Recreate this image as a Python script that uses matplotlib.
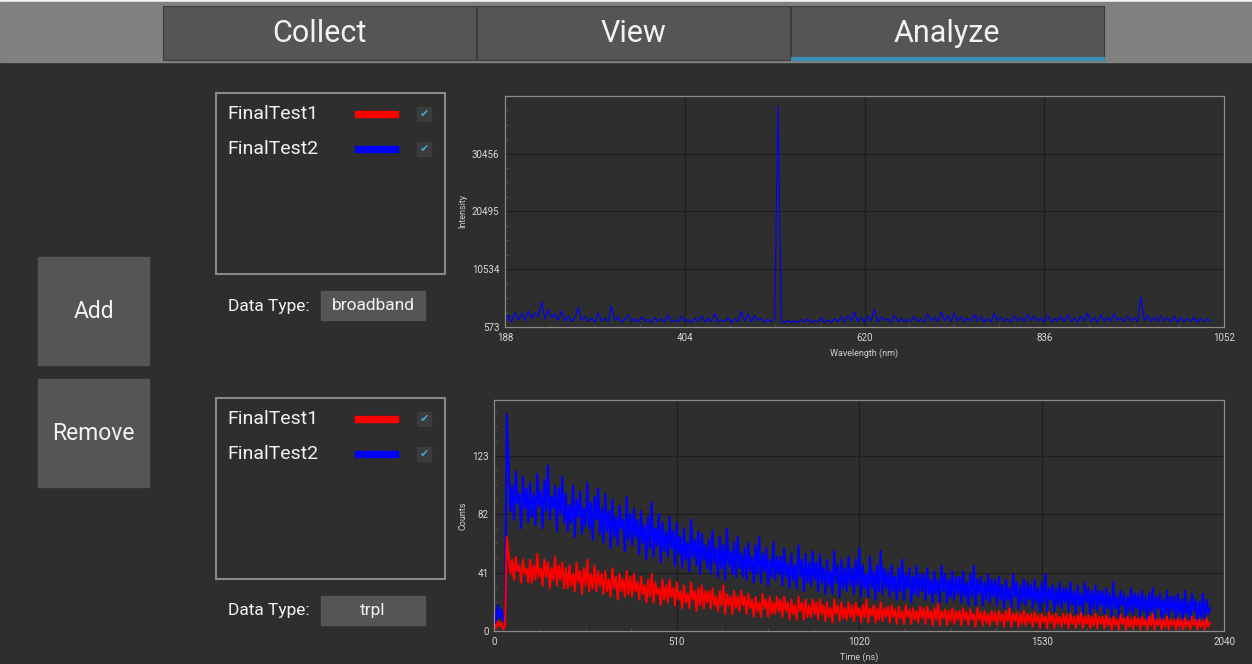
import numpy as np
import matplotlib
matplotlib.use('Agg')
import matplotlib.pyplot as plt
from matplotlib.patches import Rectangle

plt.rcParams['font.family'] = ['Roboto', 'DejaVu Sans']

# ---- data ----
tabs = ['Collect', 'View', 'Analyze']
series_names = ['FinalTest1', 'FinalTest2']
series_colors = ['#ff0000', '#0000ff']

# broadband spectrum (FinalTest2), 4 nm steps from 188 nm
wl_start, wl_step = 188, 4
spec_blue = [
    1500, 2600, 1400, 3100, 1800, 2900, 1600, 3400, 2000, 3000,
    2400, 4900, 1900, 3600, 2200, 2800, 1700, 3300, 1600, 2500,
    1500, 2200, 3900, 1700, 2400, 1500, 2100, 1400, 3000, 1600,
    2000, 1500, 4200, 1700, 2300, 1400, 1900, 2700, 1500, 2000,
    1400, 2300, 1600, 1900, 1300, 2200, 1500, 2000, 1400, 2600,
    1500, 1800, 1400, 2400, 1600, 1900, 1300, 2100, 1500, 2500,
    1400, 2000, 1500, 2900, 1400, 1800, 1600, 2200, 1300, 2000,
    1500, 3300, 1600, 2800, 1400, 2500, 1700, 2000, 1400, 1900,
    1500, 2100, 38600, 1600, 1300, 1800, 1400, 1600, 1300, 1900,
    1400, 2000, 1300, 1700, 1500, 2100, 1400, 1800, 1300, 2000,
    1500, 2300, 1400, 2600, 1600, 3100, 1500, 2200, 1400, 2500,
    1600, 3600, 1500, 2300, 1700, 2000, 1400, 2600, 1500, 2100,
    1400, 1900, 1600, 2400, 1500, 2000, 1400, 2800, 1600, 2200,
    1500, 3200, 1700, 2500, 1500, 2900, 1600, 2300, 1400, 2100,
    1600, 2700, 1500, 2400, 1400, 2000, 1500, 2900, 1600, 2300,
    1500, 2000, 1400, 2500, 1600, 2200, 1500, 2800, 1700, 2400,
    1600, 2100, 1500, 2600, 1400, 2000, 1600, 2300, 1500, 2700,
    1500, 2100, 1400, 2400, 1600, 3000, 1500, 2200, 1400, 2600,
    1600, 2300, 1500, 2800, 1700, 2100, 1500, 2500, 1600, 2200,
    1500, 5700, 1700, 2600, 1600, 2300, 1500, 2500, 1600, 2100,
    1500, 2400, 1400, 2200, 1600, 2000, 1500, 2300, 1400, 2100,
    1500, 2000, 1600,
]
spec_xticks = [188, 404, 620, 836, 1052]
spec_yticks = [573, 10534, 20495, 30456]

# trpl decays, 5 ns steps from 0 ns (one row = 100 ns)
t_step = 5
trpl_blue = [
    14, 6, 18, 9, 15, 7, 12, 152, 118, 84, 102, 78, 112, 90, 96, 72, 108, 86, 100, 76,
    104, 80, 96, 74, 110, 88, 98, 72, 106, 84, 116, 78, 94, 86, 102, 70, 100, 82, 108, 76,
    96, 70, 88, 76, 102, 66, 92, 80, 98, 68, 86, 74, 104, 72, 90, 64, 94, 78, 100, 68,
    86, 62, 96, 70, 84, 58, 92, 66, 80, 60, 88, 72, 78, 56, 94, 64, 82, 60, 86, 66,
    78, 54, 84, 62, 74, 50, 80, 58, 90, 52, 72, 60, 82, 48, 76, 56, 70, 52, 80, 58,
    70, 46, 76, 54, 66, 44, 72, 50, 62, 42, 78, 52, 64, 46, 70, 40, 68, 50, 60, 44,
    64, 40, 70, 48, 58, 38, 66, 44, 60, 36, 72, 46, 56, 40, 62, 38, 66, 44, 54, 38,
    58, 36, 62, 42, 52, 34, 60, 40, 66, 34, 54, 42, 58, 32, 50, 38, 62, 36, 52, 40,
    52, 32, 58, 38, 48, 30, 54, 36, 46, 30, 60, 38, 50, 28, 54, 34, 48, 32, 56, 36,
    48, 28, 54, 34, 44, 26, 50, 32, 42, 26, 56, 34, 46, 24, 50, 30, 44, 28, 52, 32,
    44, 26, 50, 32, 58, 24, 46, 30, 40, 24, 52, 30, 42, 22, 46, 28, 56, 26, 44, 30,
    42, 24, 46, 28, 38, 22, 44, 28, 50, 22, 40, 30, 44, 20, 38, 26, 46, 24, 40, 28,
    40, 22, 44, 26, 36, 20, 42, 26, 36, 20, 46, 28, 40, 20, 36, 24, 42, 22, 38, 26,
    38, 20, 42, 24, 34, 18, 40, 24, 46, 18, 36, 26, 38, 18, 34, 22, 40, 20, 36, 24,
    36, 18, 38, 22, 32, 16, 36, 22, 30, 16, 40, 24, 34, 16, 32, 20, 36, 18, 34, 22,
    32, 16, 36, 20, 30, 14, 34, 20, 40, 14, 30, 22, 32, 14, 30, 18, 34, 16, 30, 20,
    30, 14, 34, 18, 28, 12, 32, 18, 26, 12, 34, 20, 30, 12, 28, 16, 32, 14, 28, 18,
    28, 12, 30, 16, 26, 10, 34, 16, 24, 10, 28, 18, 26, 10, 24, 14, 30, 12, 26, 16,
    26, 10, 28, 14, 24, 8, 26, 14, 30, 8, 24, 16, 26, 8, 22, 12, 28, 10, 24, 14,
    24, 8, 26, 12, 22, 7, 28, 12, 20, 7, 26, 14, 22, 6, 20, 10, 26, 8, 22, 12,
    16,
]
trpl_red = [
    5, 2, 7, 3, 6, 1, 4, 66, 54, 40, 50, 36, 52, 42, 46, 34, 50, 40, 44, 34,
    50, 34, 46, 36, 54, 38, 44, 32, 50, 38, 48, 30, 44, 36, 52, 32, 46, 36, 48, 30,
    44, 30, 46, 32, 40, 28, 48, 34, 42, 26, 44, 32, 50, 28, 40, 30, 46, 28, 42, 32,
    40, 26, 42, 28, 36, 24, 44, 30, 38, 22, 40, 28, 36, 24, 42, 26, 38, 24, 40, 28,
    34, 22, 38, 26, 32, 20, 36, 24, 40, 20, 34, 26, 30, 18, 36, 22, 32, 20, 36, 24,
    30, 18, 34, 22, 28, 16, 32, 20, 26, 16, 34, 22, 28, 14, 30, 18, 32, 16, 28, 20,
    28, 16, 30, 18, 24, 14, 28, 18, 32, 12, 26, 18, 24, 12, 28, 16, 24, 14, 28, 18,
    24, 12, 26, 16, 22, 10, 24, 14, 20, 10, 26, 16, 22, 10, 24, 12, 20, 12, 24, 14,
    22, 10, 24, 14, 20, 8, 22, 12, 18, 8, 24, 14, 20, 8, 22, 10, 18, 10, 22, 12,
    20, 8, 22, 12, 18, 7, 20, 10, 16, 6, 22, 12, 18, 7, 20, 9, 16, 8, 20, 10,
    18, 7, 20, 11, 16, 6, 18, 10, 22, 6, 16, 11, 18, 6, 16, 8, 20, 7, 16, 10,
    17, 6, 18, 10, 15, 5, 17, 9, 14, 5, 18, 10, 15, 5, 16, 8, 14, 6, 17, 9,
    16, 5, 17, 9, 14, 4, 16, 8, 19, 4, 14, 9, 15, 4, 14, 7, 16, 5, 14, 8,
    14, 4, 16, 8, 13, 4, 15, 8, 12, 3, 16, 8, 13, 4, 14, 6, 12, 4, 14, 7,
    13, 4, 14, 7, 12, 3, 14, 7, 16, 3, 12, 7, 13, 3, 12, 5, 14, 4, 12, 6,
    12, 3, 13, 6, 11, 2, 12, 6, 10, 2, 13, 6, 11, 2, 12, 5, 10, 3, 12, 5,
    11, 2, 12, 5, 10, 2, 11, 5, 13, 2, 10, 5, 11, 2, 10, 4, 12, 2, 10, 5,
    10, 2, 11, 4, 9, 1, 10, 4, 8, 1, 11, 5, 9, 1, 10, 3, 9, 2, 10, 4,
    9, 1, 10, 4, 8, 1, 10, 4, 12, 1, 8, 4, 9, 1, 8, 3, 10, 1, 8, 4,
    8, 1, 9, 3, 8, 1, 9, 3, 7, 1, 10, 4, 8, 1, 8, 3, 7, 1, 9, 3,
    6,
]
trpl_xticks = [0, 510, 1020, 1530, 2040]
trpl_yticks = [0, 41, 82, 123]

BG = '#2e2e2e'
BTN = '#555555'
TXT = '#f2f2f2'
W, H = 1252, 664

fig = plt.figure(figsize=(W / 100, H / 100), dpi=100, facecolor=BG)

# UI layer in pixel coordinates
ui = fig.add_axes([0, 0, 1, 1])
ui.set_xlim(0, W)
ui.set_ylim(H, 0)
ui.axis('off')
ui.set_zorder(0)

ui.add_patch(Rectangle((0, 0), W, 2, color='#f4f4f4'))
ui.add_patch(Rectangle((0, 2), W, 60, color='#808080'))
tab_x = [163, 477, 791]
for i, name in enumerate(tabs):
    ui.add_patch(Rectangle((tab_x[i], 6), 313, 54, facecolor=BTN,
                           edgecolor='#3a3a3a', lw=0.8))
    ui.text(tab_x[i] + 156, 33, name, color=TXT, fontsize=22,
            ha='center', va='center')
ui.add_patch(Rectangle((791, 57), 313, 2.5, color='#3b8db0'))

# Add / Remove buttons
for y0, label in [(257, 'Add'), (379, 'Remove')]:
    ui.add_patch(Rectangle((38, y0), 111, 108, color=BTN))
    ui.text(93.5, y0 + 55, label, color=TXT, fontsize=16.5,
            ha='center', va='center')

# legend panels
for top, dtype in [(93, 'broadband'), (398, 'trpl')]:
    ui.add_patch(Rectangle((216, top), 229, 181, facecolor='none',
                           edgecolor='#8a8a8a', lw=1.5))
    for k, (nm, c) in enumerate(zip(series_names, series_colors)):
        yy = top + 21 + 35 * k
        ui.text(227, yy, nm, color=TXT, fontsize=14, ha='left', va='center')
        ui.add_patch(Rectangle((355, yy - 3), 43, 6, color=c))
        ui.add_patch(Rectangle((417, yy - 7), 14, 14, color='#3c3c3c'))
        ui.text(424, yy, '\u2714', color='#43a9dd', fontsize=8,
                ha='center', va='center', family=['DejaVu Sans'])
    yb = top + 213
    ui.text(228, yb, 'Data Type:', color=TXT, fontsize=12.5,
            ha='left', va='center')
    ui.add_patch(Rectangle((321, yb - 15), 104, 29, color=BTN))
    ui.text(373, yb, dtype, color=TXT, fontsize=12.5, ha='center', va='center')


def style_chart(ax):
    ax.set_facecolor(BG)
    for s in ax.spines.values():
        s.set_color('#8a8a8a')
        s.set_linewidth(0.9)
    ax.grid(True, color='#1f1f1f', lw=1)
    ax.set_axisbelow(True)
    ax.tick_params(which='major', length=0, colors='#d8d8d8', labelsize=7,
                   pad=4)
    ax.minorticks_on()
    ax.tick_params(which='minor', direction='in', length=2.5,
                   color='#555555', width=0.6)


# broadband chart
ax1 = fig.add_axes([505 / W, 1 - 327 / H, 719 / W, 231.3 / H])
style_chart(ax1)
wl = wl_start + wl_step * np.arange(len(spec_blue))
ax1.plot(wl, spec_blue, color=series_colors[1], lw=0.8)
ax1.set_xlim(188, 1052)
ax1.set_ylim(573, 40417)
ax1.set_xticks(spec_xticks)
ax1.set_yticks(spec_yticks)
ax1.set_xlabel('Wavelength (nm)', color='#d0d0d0', fontsize=6.5, labelpad=4)
ax1.set_ylabel('Intensity', color='#d0d0d0', fontsize=6.5, labelpad=3)

# trpl chart
ax2 = fig.add_axes([494.3 / W, 1 - 631 / H, 730 / W, 231 / H])
style_chart(ax2)
t = t_step * np.arange(len(trpl_blue))
ax2.plot(t, trpl_blue, color=series_colors[1], lw=1.5)
ax2.plot(t, trpl_red, color=series_colors[0], lw=1.5)
ax2.set_xlim(0, 2040)
ax2.set_ylim(0, 162)
ax2.set_xticks(trpl_xticks)
ax2.set_yticks(trpl_yticks)
ax2.set_xlabel('Time (ns)', color='#d0d0d0', fontsize=6.5, labelpad=4)
ax2.set_ylabel('Counts', color='#d0d0d0', fontsize=6.5, labelpad=3)

fig.savefig('out.png', dpi=100, facecolor=BG)
